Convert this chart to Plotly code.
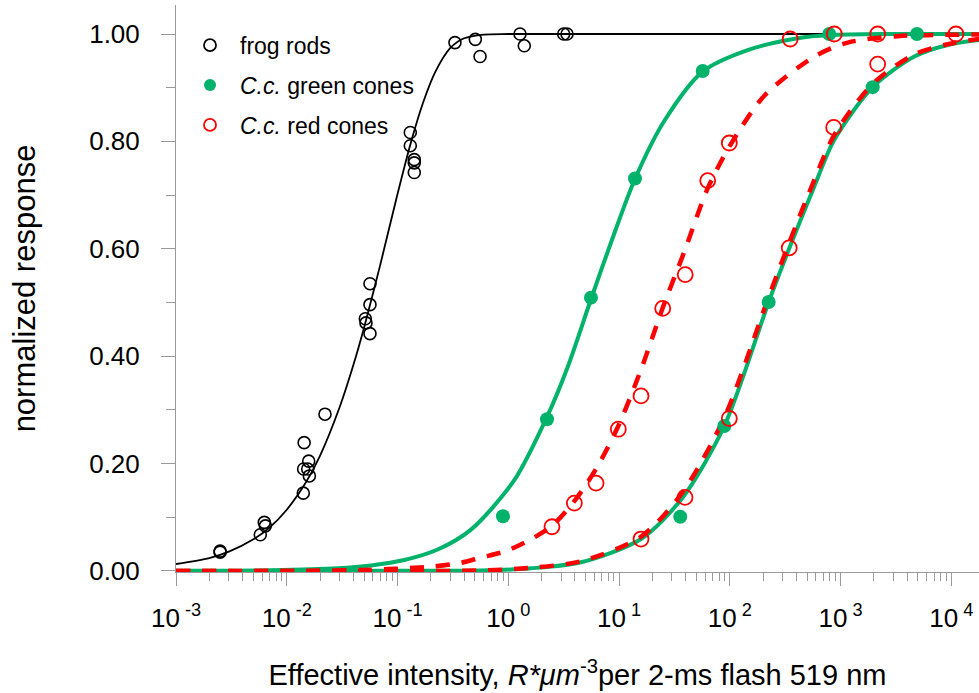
import plotly.graph_objects as go

# ---------------- data ----------------
# frog rods: data points
rod_x = [0.0025, 0.0025, 0.00577, 0.00627, 0.00641, 0.0141, 0.01435, 0.0142, 0.01578,
         0.01546, 0.0160, 0.02214, 0.0512, 0.0519, 0.0564, 0.0564, 0.0564, 0.1304,
         0.1304, 0.1417, 0.1417, 0.1417, 0.330, 0.504, 0.556, 1.276, 1.395, 3.165, 3.39]
rod_y = [0.037, 0.035, 0.0675, 0.0905, 0.084, 0.145, 0.239, 0.19, 0.2045,
         0.19, 0.177, 0.292, 0.4697, 0.462, 0.496, 0.535, 0.442, 0.8166,
         0.792, 0.766, 0.760, 0.742, 0.984, 0.990, 0.958, 1.0, 0.978, 1.0, 1.0]
# frog rods: fitted curve
rod_fit_x = [0.001, 0.002, 0.003, 0.005, 0.007, 0.01, 0.015, 0.02, 0.03, 0.04, 0.05,
             0.07, 0.1, 0.13, 0.17, 0.22, 0.3, 0.4, 0.6, 1.0, 3.0, 20000]
rod_fit_y = [0.013, 0.024, 0.036, 0.059, 0.081, 0.114, 0.166, 0.215, 0.305, 0.384, 0.454,
             0.571, 0.702, 0.793, 0.872, 0.930, 0.974, 0.992, 0.999, 1.0, 1.0, 1.0]

# C.c. green cones: data points
green_x = [0.896, 2.237, 5.58, 13.93, 56.9, 791, 4898, 35.7, 89.2, 224.5, 1950]
green_y = [0.102, 0.2825, 0.509, 0.731, 0.931, 1.0, 1.0, 0.101, 0.270, 0.501, 0.901]
# green fits (two curves)
green_fit1_x = [0.001, 0.0072, 0.0288, 0.0576, 0.115, 0.2306, 0.4606, 1.133, 2.237,
                3.44, 5.58, 8.82, 13.93, 25.6, 56.9, 145, 410, 791, 3000, 20000]
green_fit1_y = [0.0002, 0.0013, 0.005, 0.0104, 0.0205, 0.040, 0.077, 0.169, 0.287,
                0.38, 0.506, 0.622, 0.730, 0.838, 0.930, 0.970, 0.992, 0.998, 1.0, 1.0]
green_fit2_x = [0.001, 0.1, 0.567, 1.604, 4.535, 15.79, 37.25, 89.2, 224.5, 342.3, 579,
                878, 1950, 4632, 9276, 20000]
green_fit2_y = [0.0, 0.0003, 0.0008, 0.005, 0.0162, 0.0595, 0.136, 0.270, 0.501, 0.5995, 0.716,
                0.803, 0.901, 0.958, 0.9796, 0.990]

# C.c. red cones: data points
red_x = [2.48, 3.95, 6.2, 9.85, 15.79, 24.8, 39.6, 63.2, 99, 351, 878, 2163, 11010,
         15.79, 39.4, 99, 344, 867, 2163]
red_y = [0.0824, 0.1264, 0.1636, 0.264, 0.326, 0.489, 0.552, 0.727, 0.797, 0.9907, 1.0, 1.0, 1.0,
         0.0595, 0.137, 0.284, 0.6017, 0.826, 0.944]
# red fits (two dashed curves)
red_fit1_x = [0.001, 0.05, 0.2, 0.37, 0.567, 0.95, 1.6, 2.48, 3.95, 6.2, 9.85, 15.8, 24.8,
              38.9, 63.0, 99, 205, 580, 1160, 3280, 20000]
red_fit1_y = [0.0, 0.002, 0.008, 0.015, 0.025, 0.037, 0.059, 0.084, 0.13, 0.19, 0.27, 0.375, 0.49,
              0.595, 0.712, 0.79, 0.885, 0.958, 0.984, 0.996, 0.999]
red_fit2_x = [0.001, 0.567, 1.6, 4.5, 15.8, 37.0, 89.0, 224.0, 342.0, 579, 878, 1950, 4632,
              9276, 20000]
red_fit2_y = [0.0, 0.001, 0.006, 0.018, 0.064, 0.145, 0.285, 0.51, 0.61, 0.728, 0.812, 0.907, 0.962,
              0.981, 0.992]

# axis ticks
x_tick_vals = [1e-3, 1e-2, 1e-1, 1e0, 1e1, 1e2, 1e3, 1e4]
x_tick_text = ["10<sup> -3</sup>", "10<sup> -2</sup>", "10<sup> -1</sup>", "10<sup> 0</sup>",
               "10<sup> 1</sup>", "10<sup> 2</sup>", "10<sup> 3</sup>", "10<sup> 4</sup>"]
x_minor_vals = [m * 10.0 ** e for e in range(-3, 5) for m in range(2, 10)]
y_tick_vals = [0.0, 0.2, 0.4, 0.6, 0.8, 1.0]
y_tick_text = ["0.00", "0.20", "0.40", "0.60", "0.80", "1.00"]

legend_names = ["frog rods", "<i>C.c.</i> green cones", "<i>C.c.</i> red cones"]

# ---------------- styles ----------------
BLACK = "#000000"
GREEN = "#00b26a"
RED = "#ff0000"
AXIS_GREY = "#9a9a9a"
FONT = "Arial, Liberation Sans, sans-serif"

fig = go.Figure()

# fitted curves
fig.add_trace(go.Scatter(x=rod_fit_x, y=rod_fit_y, mode="lines", showlegend=False,
                         line=dict(color=BLACK, width=1.8, shape="spline", smoothing=0.8)))
fig.add_trace(go.Scatter(x=green_fit1_x, y=green_fit1_y, mode="lines", showlegend=False,
                         line=dict(color=GREEN, width=4, shape="spline", smoothing=0.8)))
fig.add_trace(go.Scatter(x=green_fit2_x, y=green_fit2_y, mode="lines", showlegend=False,
                         line=dict(color=GREEN, width=4, shape="spline", smoothing=0.8)))
fig.add_trace(go.Scatter(x=red_fit1_x, y=red_fit1_y, mode="lines", showlegend=False,
                         line=dict(color=RED, width=4.5, dash="14px,12px", shape="spline", smoothing=0.8)))
fig.add_trace(go.Scatter(x=red_fit2_x, y=red_fit2_y, mode="lines", showlegend=False,
                         line=dict(color=RED, width=4.5, dash="14px,12px", shape="spline", smoothing=0.8)))

# data points
fig.add_trace(go.Scatter(x=rod_x, y=rod_y, mode="markers", showlegend=False,
                         marker=dict(symbol="circle-open", size=12, color=BLACK,
                                     line=dict(width=1.6, color=BLACK))))
fig.add_trace(go.Scatter(x=green_x, y=green_y, mode="markers", showlegend=False,
                         marker=dict(symbol="circle", size=14, color=GREEN)))
fig.add_trace(go.Scatter(x=red_x, y=red_y, mode="markers", showlegend=False,
                         marker=dict(symbol="circle-open", size=15, color=RED,
                                     line=dict(width=1.8, color=RED))))

# legend entries
fig.add_trace(go.Scatter(x=[None], y=[None], mode="markers", name=legend_names[0], legendgroup="a",
                         marker=dict(symbol="circle-open", size=12, color=BLACK,
                                     line=dict(width=1.8, color=BLACK))))
fig.add_trace(go.Scatter(x=[None], y=[None], mode="markers", name=legend_names[1], legendgroup="b",
                         marker=dict(symbol="circle", size=12, color=GREEN)))
fig.add_trace(go.Scatter(x=[None], y=[None], mode="markers", name=legend_names[2], legendgroup="c",
                         marker=dict(symbol="circle-open", size=12, color=RED,
                                     line=dict(width=1.8, color=RED))))

fig.update_layout(
    width=979, height=693,
    margin=dict(l=176, r=0, t=5, b=121),
    paper_bgcolor="white", plot_bgcolor="white",
    font=dict(family=FONT, size=26, color="#000000"),
    showlegend=True,
    legend=dict(x=0.005, y=0.967, xanchor="left", yanchor="top",
                font=dict(family=FONT, size=23, color="#000000"),
                bgcolor="rgba(0,0,0,0)", itemwidth=50, tracegroupgap=7,
                traceorder="grouped"),
    xaxis=dict(
        type="log", range=[-3, 4.25],
        tickmode="array", tickvals=x_tick_vals, ticktext=x_tick_text,
        ticks="outside", ticklen=13, tickwidth=1, tickcolor=AXIS_GREY,
        minor=dict(tickmode="array", tickvals=x_minor_vals, ticks="outside", ticklen=8,
                   tickwidth=1, tickcolor=AXIS_GREY),
        showline=True, linecolor=AXIS_GREY, linewidth=1,
        showgrid=False, zeroline=False,
        tickfont=dict(family=FONT, size=26, color="#000000"),
        ticklabelstandoff=10,
        title=dict(text="Effective intensity, <i>R*μm</i><sup>-3</sup>per 2-ms flash 519 nm",
                   font=dict(family=FONT, size=29, color="#000000"), standoff=32),
    ),
    yaxis=dict(
        range=[-0.0019, 1.054],
        tickmode="array", tickvals=y_tick_vals, ticktext=y_tick_text,
        ticks="outside", ticklen=14, tickwidth=1, tickcolor=AXIS_GREY,
        minor=dict(dtick=0.1, tick0=0, ticks="outside", ticklen=9, tickwidth=1,
                   tickcolor=AXIS_GREY),
        showline=True, linecolor=AXIS_GREY, linewidth=1,
        showgrid=False, zeroline=False,
        tickfont=dict(family=FONT, size=26, color="#000000"),
        ticklabelstandoff=16,
        title=dict(text="normalized response",
                   font=dict(family=FONT, size=31, color="#000000"), standoff=44),
    ),
)

fig.write_html("out.html")
